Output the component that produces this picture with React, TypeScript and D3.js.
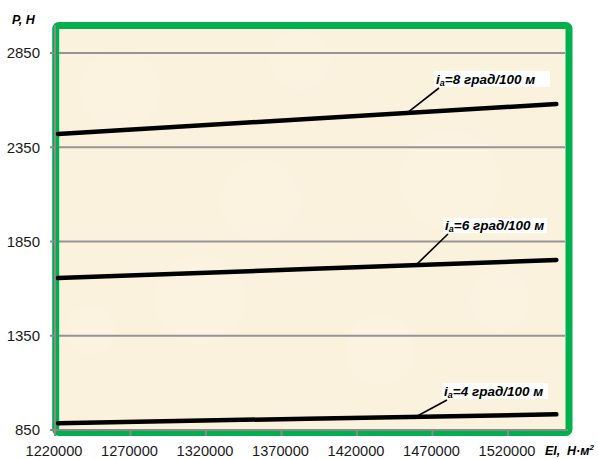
import React, { useEffect, useRef } from 'react';
import * as d3 from 'd3';

// EI, Н·м² (x) and P, Н (y)
const xValues = [1222000, 1387000, 1552000];
const series8 = [2420, 2500, 2579];
const series6 = [1656, 1704, 1752];
const series4 = [886, 910, 933];
const seriesNames = ['8', '6', '4'];
const xTicks = [1220000, 1270000, 1320000, 1370000, 1420000, 1470000, 1520000];
const yTicks = [850, 1350, 1850, 2350, 2850];

// where each callout touches its line (x value) and where its box sits
const calloutAnchors = [1453000, 1459000, 1459000];
const calloutBoxes = [
  { x: 434, y: 71, w: 116, h: 16 },
  { x: 443, y: 218, w: 104, h: 15 },
  { x: 442, y: 383, w: 106, h: 16 },
];

const W = 598;
const H = 459;

const App = () => {
  const svgRef = useRef<SVGSVGElement>(null);

  useEffect(() => {
    const svg = d3.select(svgRef.current);
    svg.selectAll('*').remove();

    const x = d3.scaleLinear().domain([1220000, 1558000]).range([55, 565.4]);
    const y = d3.scaleLinear().domain([850, 2850]).range([430, 53]);

    const axisColor = '#8a8a8a';
    const allSeries = [series8, series6, series4];

    // plot background
    svg.append('rect')
      .attr('x', 55.5).attr('y', 25.5)
      .attr('width', 513.5).attr('height', 407)
      .attr('fill', '#fbf2dd');

    // faint texture so the cream is not flat
    const tex = svg.append('g').attr('opacity', 0.12);
    const blobs = [[120, 90, 40], [300, 60, 30], [450, 180, 50], [200, 300, 45], [380, 350, 35], [90, 330, 25], [500, 300, 30], [260, 200, 40]];
    blobs.forEach(([cx, cy, r]) => {
      tex.append('circle').attr('cx', cx).attr('cy', cy).attr('r', r).attr('fill', '#fffaf0');
    });

    // gridlines
    svg.append('g')
      .selectAll('line')
      .data(yTicks.slice(1))
      .join('line')
      .attr('x1', x(1220000)).attr('x2', 565)
      .attr('y1', d => y(d)).attr('y2', d => y(d))
      .attr('stroke', '#949494').attr('stroke-width', 2);

    // green frame
    svg.append('rect')
      .attr('x', 55.7).attr('y', 25.5)
      .attr('width', 513.3).attr('height', 407)
      .attr('rx', 3)
      .attr('fill', 'none')
      .attr('stroke', '#00b04f')
      .attr('stroke-width', 7);

    // axes lines
    svg.append('line')
      .attr('x1', 55).attr('x2', 55).attr('y1', 25).attr('y2', 436)
      .attr('stroke', axisColor).attr('stroke-width', 2);
    svg.append('line')
      .attr('x1', 50).attr('x2', 568).attr('y1', 430).attr('y2', 430)
      .attr('stroke', axisColor).attr('stroke-width', 2);

    // y ticks
    const yt = svg.append('g');
    yt.selectAll('line')
      .data(yTicks)
      .join('line')
      .attr('x1', 50).attr('x2', 55)
      .attr('y1', d => y(d)).attr('y2', d => y(d))
      .attr('stroke', axisColor).attr('stroke-width', 2);
    yt.selectAll('text')
      .data(yTicks)
      .join('text')
      .attr('x', 40).attr('y', d => y(d))
      .attr('dy', '0.36em')
      .attr('text-anchor', 'end')
      .attr('font-family', 'Liberation Sans, Arial, sans-serif')
      .attr('font-size', 15)
      .attr('fill', '#1a1a1a')
      .text(d => d);

    // x ticks
    const xt = svg.append('g');
    xt.selectAll('line')
      .data(xTicks)
      .join('line')
      .attr('x1', d => x(d)).attr('x2', d => x(d))
      .attr('y1', 430).attr('y2', 436)
      .attr('stroke', axisColor).attr('stroke-width', 2);
    xt.selectAll('text')
      .data(xTicks)
      .join('text')
      .attr('x', d => x(d) - 1).attr('y', 456)
      .attr('text-anchor', 'middle')
      .attr('font-family', 'Liberation Sans, Arial, sans-serif')
      .attr('font-size', 14.6)
      .attr('fill', '#1a1a1a')
      .text(d => d);

    // series lines
    const line = d3.line<number>()
      .x((_, i) => x(xValues[i]))
      .y(d => y(d));
    svg.append('g')
      .selectAll('path')
      .data(allSeries)
      .join('path')
      .attr('d', d => line(d))
      .attr('fill', 'none')
      .attr('stroke', '#000')
      .attr('stroke-width', 4.5)
      .attr('stroke-linecap', 'round');

    // callouts
    const bold = 'Liberation Sans, Arial, sans-serif';
    allSeries.forEach((s, i) => {
      const ax = calloutAnchors[i];
      const yv = d3.scaleLinear().domain(xValues).range(s)(ax);
      const b = calloutBoxes[i];
      svg.append('line')
        .attr('x1', b.x + 5).attr('y1', b.y + b.h + 1)
        .attr('x2', x(ax)).attr('y2', y(yv))
        .attr('stroke', '#000').attr('stroke-width', 1.6);
      svg.append('rect')
        .attr('x', b.x).attr('y', b.y).attr('width', b.w).attr('height', b.h)
        .attr('fill', '#fff');
      const t = svg.append('text')
        .attr('x', b.x + 2).attr('y', b.y + b.h - 3)
        .attr('font-family', bold)
        .attr('font-size', 13.5)
        .attr('font-weight', 'bold')
        .attr('font-style', 'italic')
        .attr('fill', '#000');
      t.append('tspan').text('i');
      t.append('tspan').attr('font-size', 9).attr('dy', 2).text('а');
      t.append('tspan').attr('dy', -2).text(`=${seriesNames[i]} град/100 м`);
    });

    // axis titles
    svg.append('text')
      .attr('x', 12).attr('y', 24)
      .attr('font-family', bold).attr('font-size', 12.5)
      .attr('font-weight', 'bold').attr('font-style', 'italic')
      .text('P, Н');
    const xl = svg.append('text')
      .attr('x', 545).attr('y', 455)
      .attr('font-family', bold).attr('font-size', 12.5)
      .attr('font-weight', 'bold').attr('font-style', 'italic');
    xl.append('tspan').text('EI,');
    xl.append('tspan').attr('x', 567).text('Н·м');
    xl.append('tspan').attr('font-size', 8).attr('dy', -5).text('2');
  }, []);

  return (
    <div style={{ position: 'absolute', left: 0, top: 0, width: W, height: H, background: '#fff' }}>
      <svg ref={svgRef} width={W} height={H} style={{ display: 'block' }} />
    </div>
  );
};

export default App;
